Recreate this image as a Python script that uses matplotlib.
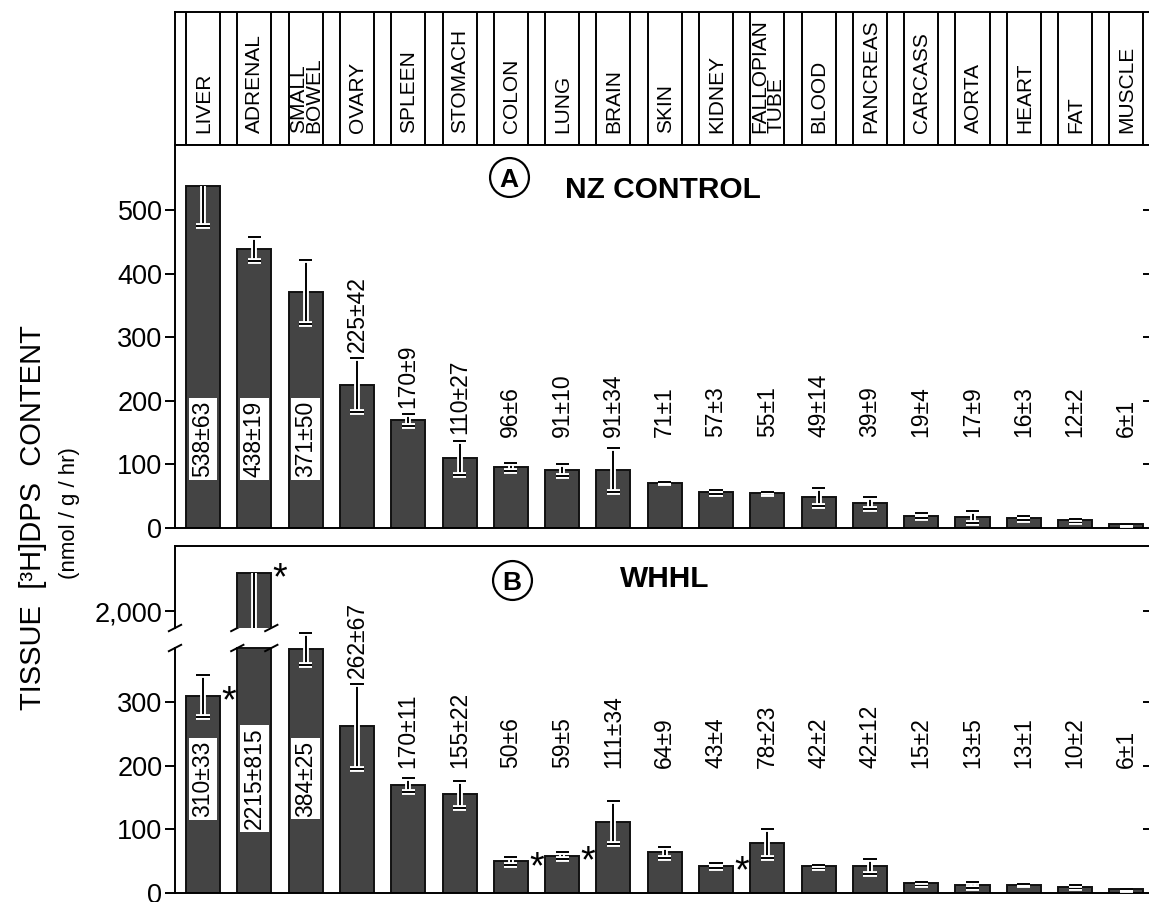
import matplotlib
matplotlib.use("Agg")
import matplotlib.pyplot as plt
import matplotlib.patheffects as pe
from matplotlib.lines import Line2D
import numpy as np

# ---------------- data ----------------
tissues = ["LIVER", "ADRENAL", "SMALL\nBOWEL", "OVARY", "SPLEEN", "STOMACH",
           "COLON", "LUNG", "BRAIN", "SKIN", "KIDNEY", "FALLOPIAN\nTUBE",
           "BLOOD", "PANCREAS", "CARCASS", "AORTA", "HEART", "FAT", "MUSCLE"]
nz_mean = [538, 438, 371, 225, 170, 110, 96, 91, 91, 71, 57, 55, 49, 39, 19, 17, 16, 12, 6]
nz_sem = [63, 19, 50, 42, 9, 27, 6, 10, 34, 1, 3, 1, 14, 9, 4, 9, 3, 2, 1]
whhl_mean = [310, 2215, 384, 262, 170, 155, 50, 59, 111, 64, 43, 78, 42, 42, 15, 13, 13, 10, 6]
whhl_sem = [33, 815, 25, 67, 11, 22, 6, 5, 34, 9, 4, 23, 2, 12, 2, 5, 1, 2, 1]
whhl_significant = ["LIVER", "ADRENAL", "COLON", "LUNG", "KIDNEY"]
boxed_labels = ["LIVER", "ADRENAL", "SMALL\nBOWEL"]
yticks_A = [0, 100, 200, 300, 400, 500]
yticks_B = [0, 100, 200, 300]
yticks_B_upper = [2000]
ytick_B_upper_labels = ["2,000"]

# ---------------- style / layout ----------------
plt.rcParams["font.family"] = ["Liberation Sans", "DejaVu Sans"]
W, H = 1149, 902
BAR = "#444444"
EDGE = "#111111"
LW = 1.4
BW = 0.663
XL = (-0.546, 18.46)
CAP = 9.5   # cap marker size, points
LABEL_FS = 16.5


def box(l, t, r, b):
    return [l / W, 1 - b / H, (r - l) / W, (b - t) / H]


fig = plt.figure(figsize=(W / 100, H / 100), dpi=100)
x = np.arange(len(tissues))
halo = [pe.Stroke(linewidth=4.2, foreground="white"), pe.Normal()]


def draw_err(ax, means, errs):
    ytop = ax.get_ylim()[1]
    m = np.asarray(means, float)
    e = np.asarray(errs, float)
    lo = m - e
    full = (m + e) < ytop - 5
    hi = np.where(full, m + e, m)
    vl = ax.vlines(x, lo, hi, colors="k", linewidth=LW, zorder=3)
    vl.set_path_effects(halo)
    c1, = ax.plot(x, lo, ls="none", marker="_", ms=CAP, mew=LW, color="k", zorder=3)
    c2, = ax.plot(x[full], hi[full], ls="none", marker="_", ms=CAP, mew=LW,
                  color="k", zorder=3)
    c1.set_path_effects(halo)
    c2.set_path_effects(halo)


def style_left(ax, ticks, labels=None):
    ax.set_yticks(ticks)
    if labels is not None:
        ax.set_yticklabels(labels)
    ax.tick_params(axis="y", direction="out", length=7, width=LW, pad=2,
                   labelsize=19.5)
    ax.set_xticks([])


def right_ticks(ax, ticks):
    r = ax.twinx()
    r.set_ylim(ax.get_ylim())
    r.set_yticks(ticks)
    r.tick_params(axis="y", direction="in", length=5, width=LW, labelright=False)
    for s in r.spines.values():
        s.set_visible(False)
    return r


# ---------------- header ----------------
axh = fig.add_axes(box(175, 12, 1150, 145))
axh.set_xlim(XL)
axh.set_ylim(0, 1)
axh.set_xticks([])
axh.set_yticks([])
for s in axh.spines.values():
    s.set_linewidth(LW)
for i in x:
    axh.axvline(i - BW / 2, color="k", lw=LW)
    axh.axvline(i + BW / 2, color="k", lw=LW)
    axh.text(i + 0.01, 0.09, tissues[i], rotation=90, ha="center", va="bottom",
             fontsize=15, linespacing=0.78, multialignment="left")

# ---------------- panel A ----------------
axA = fig.add_axes(box(175, 145, 1150, 528))
axA.set_xlim(XL)
axA.set_ylim(0, 602)
axA.bar(x, nz_mean, width=BW, color=BAR, edgecolor=EDGE, linewidth=LW, zorder=2)
draw_err(axA, nz_mean, nz_sem)
style_left(axA, yticks_A)
for s in axA.spines.values():
    s.set_linewidth(LW)
right_ticks(axA, yticks_A[1:])

for i in x:
    s = f"{nz_mean[i]}±{nz_sem[i]}"
    if tissues[i] in boxed_labels:
        axA.text(i, 140, s, rotation=90, ha="center", va="center", fontsize=LABEL_FS,
                 zorder=5, bbox=dict(boxstyle="square,pad=0.12", fc="white", ec="none"))
    else:
        yb = max(143, nz_mean[i] + nz_sem[i] + 10)
        axA.text(i, yb, s, rotation=90, ha="center", va="bottom", fontsize=LABEL_FS)

# ---------------- panel B ----------------
B_TOP, B_BOT, B_BRK_HI, B_BRK_LO = 546, 893, 628, 648
YB_MAX = 546.0
ppu = (B_BOT - B_TOP) / YB_MAX
brk_lo = (B_BOT - B_BRK_LO) / ppu
brk_hi = (B_BOT - B_BRK_HI) / ppu

axB = fig.add_axes(box(175, B_TOP, 1150, B_BOT))
axB.set_xlim(XL)
axB.set_ylim(0, YB_MAX)
low_heights = np.minimum(whhl_mean, brk_lo)
axB.bar(x, low_heights, width=BW, color=BAR, edgecolor=EDGE, linewidth=LW, zorder=2)
draw_err(axB, whhl_mean, whhl_sem)
style_left(axB, yticks_B)
for s in axB.spines.values():
    s.set_linewidth(LW)
axB.spines["left"].set_bounds(0, brk_lo)
right_ticks(axB, yticks_B[1:])

axU = fig.add_axes(box(175, B_TOP, 1150, B_BRK_HI))
axU.set_xlim(XL)
axU.set_ylim(1904, 2368)
axU.patch.set_visible(False)
axU.bar(x, whhl_mean, width=BW, color=BAR, edgecolor=EDGE, linewidth=LW, zorder=2)
draw_err(axU, whhl_mean, whhl_sem)
style_left(axU, yticks_B_upper, ytick_B_upper_labels)
for k, s in axU.spines.items():
    s.set_visible(k == "left")
    s.set_linewidth(LW)
right_ticks(axU, yticks_B_upper)

# break marks (spine and broken bar)
ia = tissues.index("ADRENAL")
for yv in (brk_lo, brk_hi):
    for xc in (XL[0], ia - BW / 2, ia + BW / 2):
        axB.add_line(Line2D([xc - 0.12, xc + 0.12], [yv - 5, yv + 5],
                            color="k", lw=LW, clip_on=False, zorder=6))

for i in x:
    s = f"{whhl_mean[i]}±{whhl_sem[i]}"
    if tissues[i] in boxed_labels:
        axB.text(i, 180, s, rotation=90, ha="center", va="center", fontsize=LABEL_FS,
                 zorder=5, bbox=dict(boxstyle="square,pad=0.12", fc="white", ec="none"))
    else:
        yb = max(197, whhl_mean[i] + whhl_sem[i] + 10)
        axB.text(i, yb, s, rotation=90, ha="center", va="bottom", fontsize=LABEL_FS)

for name in whhl_significant:
    i = tissues.index(name)
    target = axU if whhl_mean[i] > brk_lo else axB
    target.annotate("*", xy=(i + BW / 2, whhl_mean[i]), xytext=(1.0, -12),
                    textcoords="offset points", ha="left", va="baseline",
                    fontsize=27, annotation_clip=False, zorder=6)

# ---------------- titles ----------------
def circled(cx, cy, letter):
    fig.add_artist(Line2D([cx / W], [1 - cy / H], marker="o", ms=28, mfc="none",
                          mec="k", mew=1.6, transform=fig.transFigure))
    fig.text(cx / W, 1 - (cy + 10) / H, letter, ha="center", va="baseline",
             fontsize=19, fontweight="bold")


circled(509, 177, "A")
fig.text(565 / W, 1 - 198 / H, "NZ CONTROL", ha="left", va="baseline",
         fontsize=21.5, fontweight="bold")
circled(512, 580, "B")
fig.text(620 / W, 1 - 587 / H, "WHHL", ha="left", va="baseline",
         fontsize=21.5, fontweight="bold")

# ---------------- y labels ----------------
fig.text(33 / W, 1 - 518 / H, "TISSUE  [³H]DPS  CONTENT", rotation=90,
         ha="center", va="center", fontsize=21)
fig.text(70 / W, 1 - 513 / H, "(nmol / g / hr)", rotation=90,
         ha="center", va="center", fontsize=16)

fig.savefig("out.png", dpi=100)
